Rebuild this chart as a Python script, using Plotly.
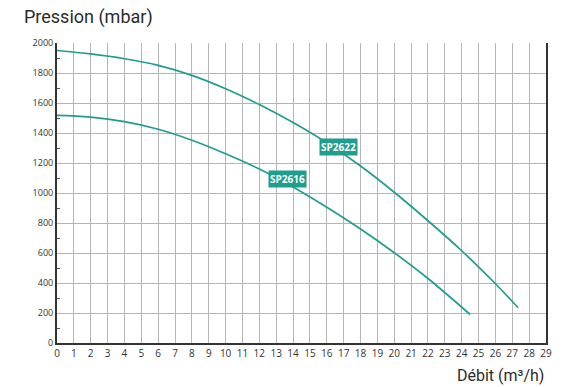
import plotly.graph_objects as go

# courbes debit / pression
debit_sp2622 = [0, 2, 4, 6, 8, 10, 12, 14, 16, 18, 20, 22, 24, 26, 27.35]
pression_sp2622 = [1950, 1927, 1895, 1851, 1784, 1695, 1590, 1470, 1335, 1180, 1005, 815, 615, 395, 235]

debit_sp2616 = [0, 2, 4, 6, 8, 10, 12, 14, 16, 18, 20, 22, 24.5]
pression_sp2616 = [1517, 1506, 1476, 1425, 1352, 1262, 1160, 1040, 905, 760, 602, 430, 190]

# etiquettes des modeles
labels = ["SP2622", "SP2616"]
label_x = [16.72, 13.67]
label_y = [1305, 1092]

TEAL = "#1f9e8e"

fig = go.Figure()

fig.add_trace(go.Scatter(
    x=debit_sp2622, y=pression_sp2622,
    mode="lines", line=dict(color=TEAL, width=1.7, shape="spline", smoothing=1.0),
    showlegend=False, hoverinfo="skip"
))
fig.add_trace(go.Scatter(
    x=debit_sp2616, y=pression_sp2616,
    mode="lines", line=dict(color=TEAL, width=1.7, shape="spline", smoothing=1.0),
    showlegend=False, hoverinfo="skip"
))

for txt, lx, ly in zip(labels, label_x, label_y):
    fig.add_annotation(
        x=lx, y=ly, text=f"<b>{txt}</b>",
        showarrow=False,
        font=dict(family="Open Sans", color="white", size=10),
        bgcolor=TEAL, borderpad=1
    )

# titres des axes (positions en pixels, converties en coordonnees papier)
W, H = 564, 387
ML, MR, MT, MB = 57, 16, 43, 44
pw, ph = W - ML - MR, H - MT - MB

fig.add_annotation(
    x=(22 - ML) / pw, y=1 - (17 - MT) / ph, xref="paper", yref="paper",
    text="Pression (mbar)", showarrow=False, xanchor="left", yanchor="middle",
    font=dict(family="Roboto", size=18, color="#2b2b2b")
)
fig.add_annotation(
    x=(548 - ML) / pw, y=1 - (375 - MT) / ph, xref="paper", yref="paper",
    text="Débit (m³/h)", showarrow=False, xanchor="right", yanchor="middle",
    font=dict(family="Roboto", size=16, color="#2b2b2b")
)

fig.update_layout(
    width=W, height=H,
    margin=dict(l=ML, r=MR, t=MT, b=MB),
    plot_bgcolor="white", paper_bgcolor="white",
    font=dict(family="Open Sans", color="#333333", size=10),
    xaxis=dict(
        range=[0, 29], dtick=1, tick0=0,
        showgrid=True, gridcolor="#b5b5b5", gridwidth=1,
        showline=True, linecolor="#333333", linewidth=2,
        zeroline=False, ticks="", tickfont=dict(size=10, color="#333333"),
        fixedrange=True
    ),
    yaxis=dict(
        range=[0, 2000], dtick=200, tick0=0,
        showgrid=True, gridcolor="#b5b5b5", gridwidth=1,
        showline=True, linecolor="#333333", linewidth=2, mirror=True,
        zeroline=False, ticks="", tickfont=dict(size=9, color="#333333"),
        minor=dict(dtick=100, ticks="inside", ticklen=3, tickcolor="#555555", showgrid=False),
        fixedrange=True
    )
)

# la page a une marge de 8px par defaut : on la supprime
fig.write_html(
    "out.html",
    config={"displayModeBar": False},
    post_script="document.body.style.margin='0';"
)
